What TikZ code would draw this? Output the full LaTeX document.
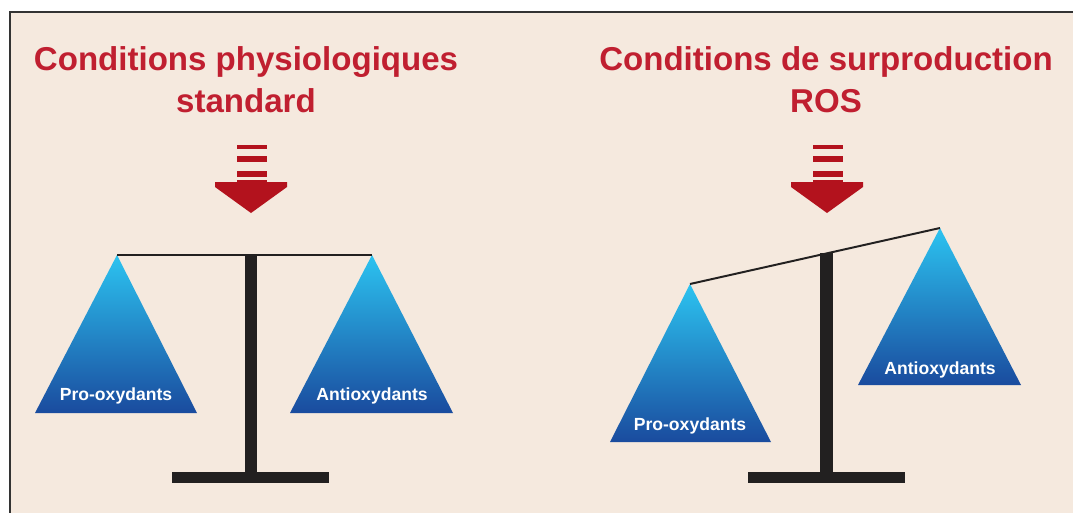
\documentclass[tikz,border=0pt]{standalone}
\usepackage{fontspec}
\setmainfont{Liberation Sans}
\usetikzlibrary{positioning}

\definecolor{paper}{HTML}{F5E9DE}
\definecolor{frameline}{HTML}{333333}
\definecolor{titlered}{HTML}{C01F30}
\definecolor{arrowred}{HTML}{B3121D}
\definecolor{pancyan}{HTML}{2CC3F0}
\definecolor{panblue}{HTML}{1A4B9E}
\definecolor{beamblack}{HTML}{222020}

\tikzset{
	title/.style={font=\bfseries\fontsize{23.5}{29.9}\selectfont, text=titlered, align=center, inner sep=0pt},
	panlabel/.style={font=\bfseries\fontsize{12.5}{14}\selectfont, text=white, inner sep=0pt},
	pan/.style={top color=pancyan, bottom color=panblue, draw=none},
	beam/.style={draw=beamblack, line width=1.4pt},
	post/.style={fill=beamblack},
	rosarrow/.pic={
		\fill[arrowred] (-14,-68) rectangle (16,-64);
		\fill[arrowred] (-14,-57) rectangle (16,-51);
		\fill[arrowred] (-14,-42) rectangle (16,-36);
		\fill[arrowred] (-14,-33) rectangle (16,-22) -- cycle;
		\fill[arrowred] (-36,-31) -- (-36,-26) -- (0,0) -- (36,-26) -- (36,-31) -- cycle;
	}
}

\begin{document}
\begin{tikzpicture}[x=0.025cm, y=-0.025cm]
	\useasboundingbox (0,0) rectangle (1073,513);
	\fill[white] (0,0) rectangle (1073,513);
	\fill[paper] (10,12) rectangle (1073,513);
	\draw[frameline, line width=1.8pt] (10,513) -- (10,12) -- (1073,12);

	% titles
	\node[title] (titleL) at (246,80) {Conditions physiologiques\\standard};
	\node[title] (titleR) at (826,80) {Conditions de surproduction\\ROS};

	% arrows
	\pic at (251,213) {rosarrow};
	\pic at (827,213) {rosarrow};

	% standard balance
	\coordinate (apexL) at (117,255);
	\coordinate (apexR) at (372,255);
	\shade[pan] (apexL) -- (197,413) -- (35,413) -- cycle;
	\shade[pan] (apexR) -- (453,413) -- (290,413) -- cycle;
	\fill[post] (245,255) rectangle (257,474);
	\fill[post] (172,472) rectangle (329,483);
	\draw[beam] (apexL) -- (apexR);
	\node[panlabel] (proA) at (116,396) {Pro-oxydants};
	\node[panlabel] (antiA) at (372,396) {Antioxydants};

	% ROS balance
	\coordinate (apexP) at (690,284);
	\coordinate (apexQ) at (940,228);
	\shade[pan] (apexP) -- (771,442) -- (610,442) -- cycle;
	\shade[pan] (apexQ) -- (1021,385) -- (858,385) -- cycle;
	\fill[post] (820,253) rectangle (833,474);
	\fill[post] (748,472) rectangle (905,483);
	\draw[beam] (apexP) -- (apexQ);
	\node[panlabel] (proB) at (690,426) {Pro-oxydants};
	\node[panlabel] (antiB) at (940,370) {Antioxydants};
\end{tikzpicture}
\end{document}
